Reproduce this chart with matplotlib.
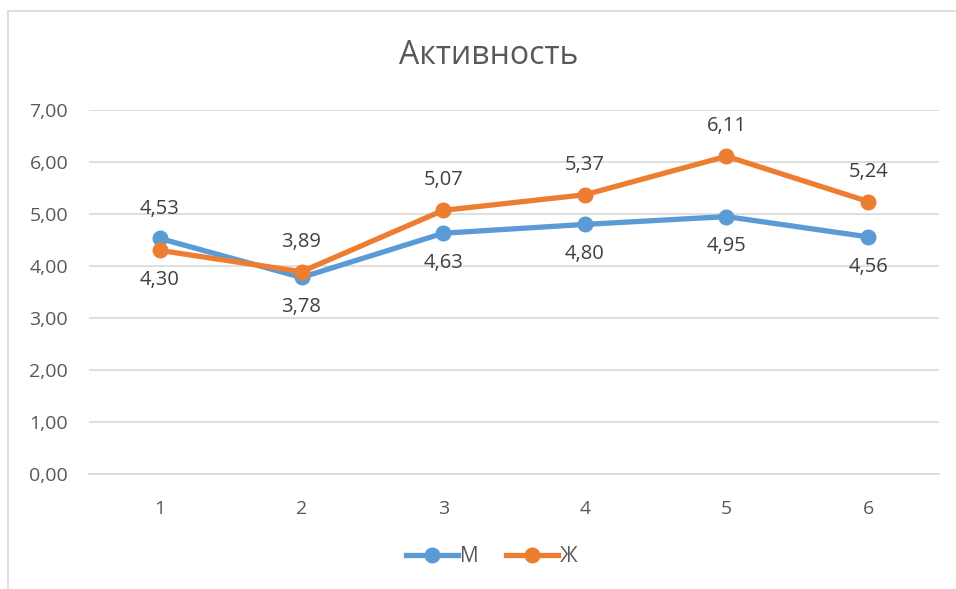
import matplotlib.pyplot as plt
from matplotlib.patches import Rectangle

plt.rcParams['font.family'] = ['Open Sans', 'DejaVu Sans']

x = [1, 2, 3, 4, 5, 6]
m = [4.53, 3.78, 4.63, 4.80, 4.95, 4.56]
zh = [4.30, 3.89, 5.07, 5.37, 6.11, 5.24]
# which side of the point each label goes on (1 = above, -1 = below)
m_side = [1, -1, -1, -1, -1, -1]
zh_side = [-1, 1, 1, 1, 1, 1]

blue = '#5B9BD5'
orange = '#ED7D31'
txt = '#595959'

fig = plt.figure(figsize=(9.56, 5.89), dpi=100)
ax = fig.add_axes([89 / 956, 1 - 474 / 589, 850 / 956, 364 / 589])

# chart border
fig.patches.append(Rectangle((8 / 956, -0.1), 1.2, 1 - 11 / 589 + 0.1,
                             transform=fig.transFigure, fill=False,
                             edgecolor='#D9D9D9', linewidth=1.2))

ax.plot(x, m, color=blue, lw=3.8, marker='o', ms=10.5, label='М', zorder=3)
ax.plot(x, zh, color=orange, lw=3.8, marker='o', ms=10.5, label='Ж', zorder=4)

for xi, v, s in zip(x, m, m_side):
    ax.annotate(f'{v:.2f}'.replace('.', ','), (xi, v), xytext=(0, 21.5 * s),
                textcoords='offset points', ha='center', va='center',
                fontsize=14.5, color='#404040')
for xi, v, s in zip(x, zh, zh_side):
    ax.annotate(f'{v:.2f}'.replace('.', ','), (xi, v), xytext=(0, 21.5 * s),
                textcoords='offset points', ha='center', va='center',
                fontsize=14.5, color='#404040')

ax.set_xlim(0.5, 6.5)
ax.set_ylim(0, 7)
ax.set_xticks(x)
ax.set_yticks(range(8))
ax.set_yticklabels([f'{v:.2f}'.replace('.', ',') for v in range(8)])
ax.tick_params(length=0, labelsize=14, labelcolor=txt)
ax.tick_params(axis='x', pad=19)
ax.tick_params(axis='y', pad=15)
ax.grid(axis='y', color='#D9D9D9', lw=1.2)
ax.set_axisbelow(True)
for sp in ax.spines.values():
    sp.set_visible(False)
ax.spines['bottom'].set_visible(True)
ax.spines['bottom'].set_color('#D9D9D9')
ax.spines['bottom'].set_linewidth(1.2)

fig.text(489 / 956, 1 - 55 / 589, 'Активность', ha='center', va='center',
         fontsize=23, color=txt)

fig.legend(loc='center', bbox_to_anchor=(492 / 956, 1 - 557 / 589), ncol=2,
           frameon=False, fontsize=15, labelcolor=txt, handlelength=2.5,
           handletextpad=0.1, columnspacing=1.3)

fig.savefig('out.png', dpi=100, facecolor='white')
